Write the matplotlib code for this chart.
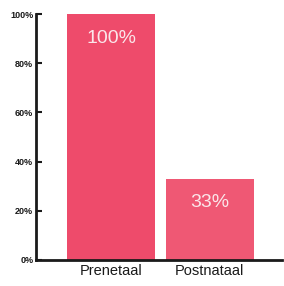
import matplotlib.pyplot as plt
from matplotlib.ticker import FuncFormatter

categories = ["Prenetaal", "Postnataal"]
values = [100, 33]
value_labels = ["100%", "33%"]
bar_colors = ["#ee4b6b", "#ef5874"]
y_ticks = [0, 20, 40, 60, 80, 100]

LABEL_FONT = ["Liberation Sans Narrow", "Liberation Sans", "DejaVu Sans"]


def main():
    fig = plt.figure(figsize=(2.84, 2.86), dpi=100)
    ax = fig.add_axes([0.127, 0.091, 0.866, 0.860])

    x = list(range(len(categories)))
    ax.bar(x, values, width=0.89, color=bar_colors, edgecolor="none")

    for xi, v, lab in zip(x, values, value_labels):
        ax.text(xi, v - 9.8, lab, ha="center", va="center",
                fontsize=14, color="#fbe6ea", family="Liberation Sans")

    ax.set_xlim(-0.76, 1.73)
    ax.set_ylim(0, 100)
    ax.set_yticks(y_ticks)
    ax.yaxis.set_major_formatter(FuncFormatter(lambda v, _: f"{v:.0f}%"))
    ax.set_xticks(x)
    ax.set_xticklabels(categories)

    for side in ["top", "right"]:
        ax.spines[side].set_visible(False)
    for side in ["left", "bottom"]:
        ax.spines[side].set_linewidth(2)
        ax.spines[side].set_color("#1a1a1a")

    ax.tick_params(axis="y", direction="in", length=4, width=1.5,
                   color="#1a1a1a", pad=2, labelsize=6.5)
    for t in ax.get_yticklabels():
        t.set_fontweight("bold")
        t.set_family("Liberation Sans")
        t.set_color("#1a1a1a")
    ax.tick_params(axis="x", length=0, pad=3)
    for t in ax.get_xticklabels():
        t.set_fontsize(10.5)
        t.set_family(LABEL_FONT)
        t.set_color("#1a1a1a")

    fig.savefig("out.png", dpi=100)
    plt.close(fig)


if __name__ == "__main__":
    main()
